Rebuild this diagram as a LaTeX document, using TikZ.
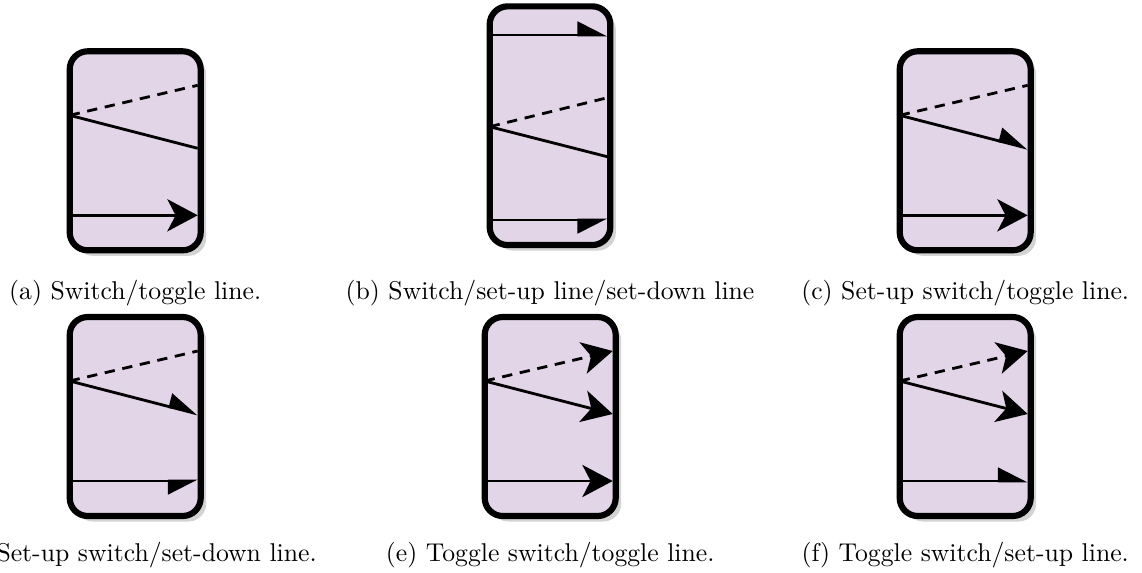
\documentclass[tikz,border=0pt]{standalone}
\usepackage{tikz}
\usetikzlibrary{arrows.meta, shadows}

\definecolor{boxfill}{HTML}{E1D5E7}
\newlength{\px}
\setlength{\px}{0.389pt}

\tikzset{
  toggle/.tip={Stealth[length=11.8pt, width=12.5pt, inset=3.2pt]},
  setup/.tip={Triangle[left, length=10.5pt, width=10.4pt]},
  setdown/.tip={Triangle[right, length=10.5pt, width=10.4pt]},
  tipnone/.style={},
  tiptoggle/.style={-toggle},
  tipsetup/.style={-setup},
  tipsetdown/.style={-setdown},
  switchbox/.style={draw, line width=2.4pt, fill=boxfill, rounded corners=7pt,
    inner sep=0pt, drop shadow={opacity=0.35}},
  switchline/.style={line width=1.1pt},
  dashline/.style={switchline, dash pattern=on 4pt off 3pt},
  caption/.style={anchor=base, inner sep=0pt}
}

\begin{document}
\begin{tikzpicture}[x=\px, y=-\px]
    \useasboundingbox (0,0) rectangle (1142,573);

    % Tall panel: set-up line on top, set-down line at the bottom
    \node[switchbox, minimum width=120.6\px, minimum height=238.7\px] (b) at (550,125.7) {};
    \coordinate (b-tl) at (489.7,35);   \coordinate (b-tr) at (607.3,35);
    \coordinate (b-l)  at (489.7,126.7);
    \coordinate (b-du) at (605,98.3);   \coordinate (b-sd) at (607.3,156.7);
    \coordinate (b-bl) at (489.7,220);  \coordinate (b-br) at (607.3,220);
    \draw[switchline, tipsetup] (b-tl) -- (b-tr);
    \draw[dashline] (b-l) -- (b-du);
    \draw[switchline] (b-l) -- (b-sd);
    \draw[switchline, tipsetdown] (b-bl) -- (b-br);

    % The other panels: name / top left corner / tips of dashed, solid and bottom line
    \foreach \n/\x/\y/\td/\ts/\tb in {a/69.7/51.3/none/none/toggle,
        c/899.7/51.3/none/setup/toggle, d/69.7/317/none/setup/setdown,
        e/484.7/317/toggle/toggle/toggle, f/899.7/317/toggle/toggle/setup} {
      \node[switchbox, minimum width=131\px, minimum height=199\px] (\n) at (\x+65.5,\y+99.5) {};
      \coordinate (\n-l)  at (\x,\y+64);
      \coordinate (\n-du) at (\x+128,\y+34);
      \coordinate (\n-sd) at (\x+128,\y+97);
      \coordinate (\n-bl) at (\x,\y+164);
      \coordinate (\n-br) at (\x+128,\y+164);
      \draw[dashline, tip\td] (\n-l) -- (\n-du);
      \draw[switchline, tip\ts] (\n-l) -- (\n-sd);
      \draw[switchline, tip\tb] (\n-bl) -- (\n-br);
    }

    % Captions
    \node[caption] (capa) at (135.2,299) {(a) Switch/toggle line.};
    \node[caption] (capb) at (550,299) {(b) Switch/set-up line/set-down line};
    \node[caption] (capc) at (965.2,299) {(c) Set-up switch/toggle line.};
    \node[caption] (capd) at (135.2,561) {(d) Set-up switch/set-down line.};
    \node[caption] (cape) at (550.2,561) {(e) Toggle switch/toggle line.};
    \node[caption] (capf) at (965.2,561) {(f) Toggle switch/set-up line.};

\end{tikzpicture}
\end{document}
